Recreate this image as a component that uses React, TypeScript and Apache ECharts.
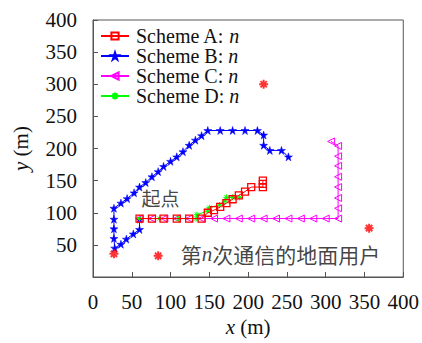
import React, { useEffect, useRef } from "react";
import * as echarts from "echarts";

// Trajectories (x, y in metres)
const schemeA: number[][] = [
  [60, 91], [76, 91], [91, 91], [108, 91], [124, 91], [140, 91],
  [148, 100], [156, 104], [164, 109], [172, 115], [180, 121], [188, 127],
  [196, 133], [204, 140], [219, 140], [219, 145], [219, 150],
];
const schemeB: number[][] = [
  [60, 90], [60, 74], [52, 67], [43, 59], [36, 51], [28, 45],
  [27, 60], [27, 75], [27, 90], [27, 107], [36, 115], [44, 122],
  [53, 131], [60, 140], [68, 147], [76, 156], [84, 164], [91, 172],
  [100, 180], [108, 187], [116, 195], [124, 205], [132, 213], [140, 220],
  [148, 228], [164, 228], [180, 228], [196, 228], [212, 228], [220, 221],
  [220, 205], [228, 197], [243, 197], [252, 187],
];
const schemeC: number[][] = [
  [60, 91], [76, 91], [92, 91], [108, 91], [124, 91], [140, 91],
  [156, 91], [172, 91], [188, 91], [204, 91], [220, 91], [236, 91],
  [252, 91], [268, 91], [284, 91], [300, 91], [316, 91],
  [316, 107], [316, 123], [316, 140], [316, 156], [316, 173], [316, 188],
  [316, 204], [307, 211],
];
const schemeD: number[][] = [
  [60, 91], [86, 91], [110, 91], [133, 91], [134, 97], [148, 103],
  [150, 108], [163, 112], [170, 118], [172, 124], [180, 124], [189, 124],
];
const groundUsers: number[][] = [[27, 36], [220, 300], [356, 76]];
const userLegendMarker: number[][] = [[84, 33]];
const startLabelPos: number[][] = [[87, 123]];

const seriesNames = ["Scheme A", "Scheme B", "Scheme C", "Scheme D"];
const xTicks = { min: 0, max: 400, interval: 50 };
const yTicks = { min: 0, max: 400, interval: 50 };

const STAR =
  "path://M0,-1 L0.2245,-0.309 L0.951,-0.309 L0.363,0.118 L0.588,0.809 L0,0.382 L-0.588,0.809 L-0.363,0.118 L-0.951,-0.309 L-0.2245,-0.309 Z";
const SQUARE = "path://M-1,-1 L1,-1 L1,1 L-1,1 Z";
const LTRI = "path://M-1,0 L1,-1 L1,1 Z";
const AST =
  "path://M0,-1 L0,1 M-1,0 L1,0 M-0.7,-0.7 L0.7,0.7 M-0.7,0.7 L0.7,-0.7";

const SERIF = "Liberation Serif";
const CJK = "Noto Sans CJK SC";

export default function App() {
  const ref = useRef<HTMLDivElement>(null);
  useEffect(() => {
    if (!ref.current) return;
    document.body.style.margin = "0";
    const chart = echarts.init(ref.current, undefined, { renderer: "svg" });
    const italic = { fontFamily: SERIF, fontStyle: "italic" as const, fontSize: 21, color: "#111" };
    const axisCommon = {
      type: "value" as const,
      splitLine: { show: false },
      axisLine: { show: true, lineStyle: { color: "#555", width: 1 } },
      axisTick: { show: true, inside: true, length: 5, lineStyle: { color: "#555" } },
      nameLocation: "middle" as const,
      nameTextStyle: { fontFamily: SERIF, fontSize: 21, color: "#111", rich: { i: italic } },
    };
    chart.setOption({
      animation: false,
      backgroundColor: "#fff",
      grid: { left: 93, right: 18, top: 20, bottom: 66, show: true, borderColor: "#555", borderWidth: 1 },
      legend: {
        orient: "vertical",
        left: 100,
        top: 26,
        padding: 0,
        itemGap: 0,
        itemWidth: 28,
        itemHeight: 9,
        data: seriesNames,
        formatter: (name: string) => `${name}: {i|n}`,
        textStyle: {
          fontFamily: SERIF,
          fontSize: 20,
          color: "#111",
          lineHeight: 20,
          padding: [0, 0, 0, 2],
          rich: { i: { ...italic, fontSize: 20, lineHeight: 20 } },
        },
      },
      xAxis: {
        ...axisCommon,
        ...xTicks,
        name: "{i|x} (m)",
        nameGap: 38,
        axisLabel: { fontFamily: SERIF, fontSize: 21, color: "#111", margin: 14 },
      },
      yAxis: {
        ...axisCommon,
        ...yTicks,
        name: "{i|y} (m)",
        nameGap: 62,
        axisLabel: { fontFamily: SERIF, fontSize: 21, color: "#111", margin: 16, showMinLabel: false },
      },
      series: [
        {
          name: "Scheme A",
          type: "line",
          data: schemeA,
          symbol: SQUARE,
          symbolSize: 7,
          lineStyle: { color: "#ff0000", width: 1 },
          itemStyle: { color: "rgba(255,255,255,0)", borderColor: "#ff0000", borderWidth: 1.3 },
          z: 4,
        },
        {
          name: "Scheme B",
          type: "line",
          data: schemeB,
          symbol: STAR,
          symbolSize: 8,
          lineStyle: { color: "#0000ff", width: 1 },
          itemStyle: { color: "#0000ff", borderColor: "#0000ff", borderWidth: 0.5 },
          z: 3,
        },
        {
          name: "Scheme C",
          type: "line",
          data: schemeC,
          symbol: LTRI,
          symbolSize: 7,
          lineStyle: { color: "#ff00ff", width: 1 },
          itemStyle: { color: "rgba(255,255,255,0)", borderColor: "#ff00ff", borderWidth: 1 },
          z: 2,
        },
        {
          name: "Scheme D",
          type: "line",
          data: schemeD,
          symbol: AST,
          symbolSize: 6,
          lineStyle: { color: "#00ff00", width: 1 },
          itemStyle: { color: "#00ff00", borderColor: "#00ff00", borderWidth: 1 },
          z: 3,
        },
        {
          name: "users",
          type: "scatter",
          data: groundUsers,
          symbol: AST,
          symbolSize: 9,
          itemStyle: { color: "#ff0000", borderColor: "#ff0000", borderWidth: 2 },
          z: 5,
        },
        {
          name: "usersKey",
          type: "scatter",
          data: userLegendMarker,
          symbol: AST,
          symbolSize: 9,
          itemStyle: { color: "#ff0000", borderColor: "#ff0000", borderWidth: 2 },
          label: {
            show: true,
            position: "right",
            distance: 17,
            offset: [0, -2],
            formatter: "第{i|n}次通信的地面用户",
            fontFamily: CJK,
            fontSize: 21,
            color: "#111",
            rich: { i: { ...italic, fontSize: 21 } },
          },
          z: 5,
        },
        {
          name: "start",
          type: "scatter",
          data: startLabelPos,
          symbolSize: 0,
          label: {
            show: true,
            position: "inside",
            formatter: "起点",
            fontFamily: CJK,
            fontSize: 19,
            color: "#111",
          },
          z: 5,
        },
      ],
    });
    return () => chart.dispose();
  }, []);
  return <div ref={ref} style={{ width: 422, height: 343 }} />;
}
